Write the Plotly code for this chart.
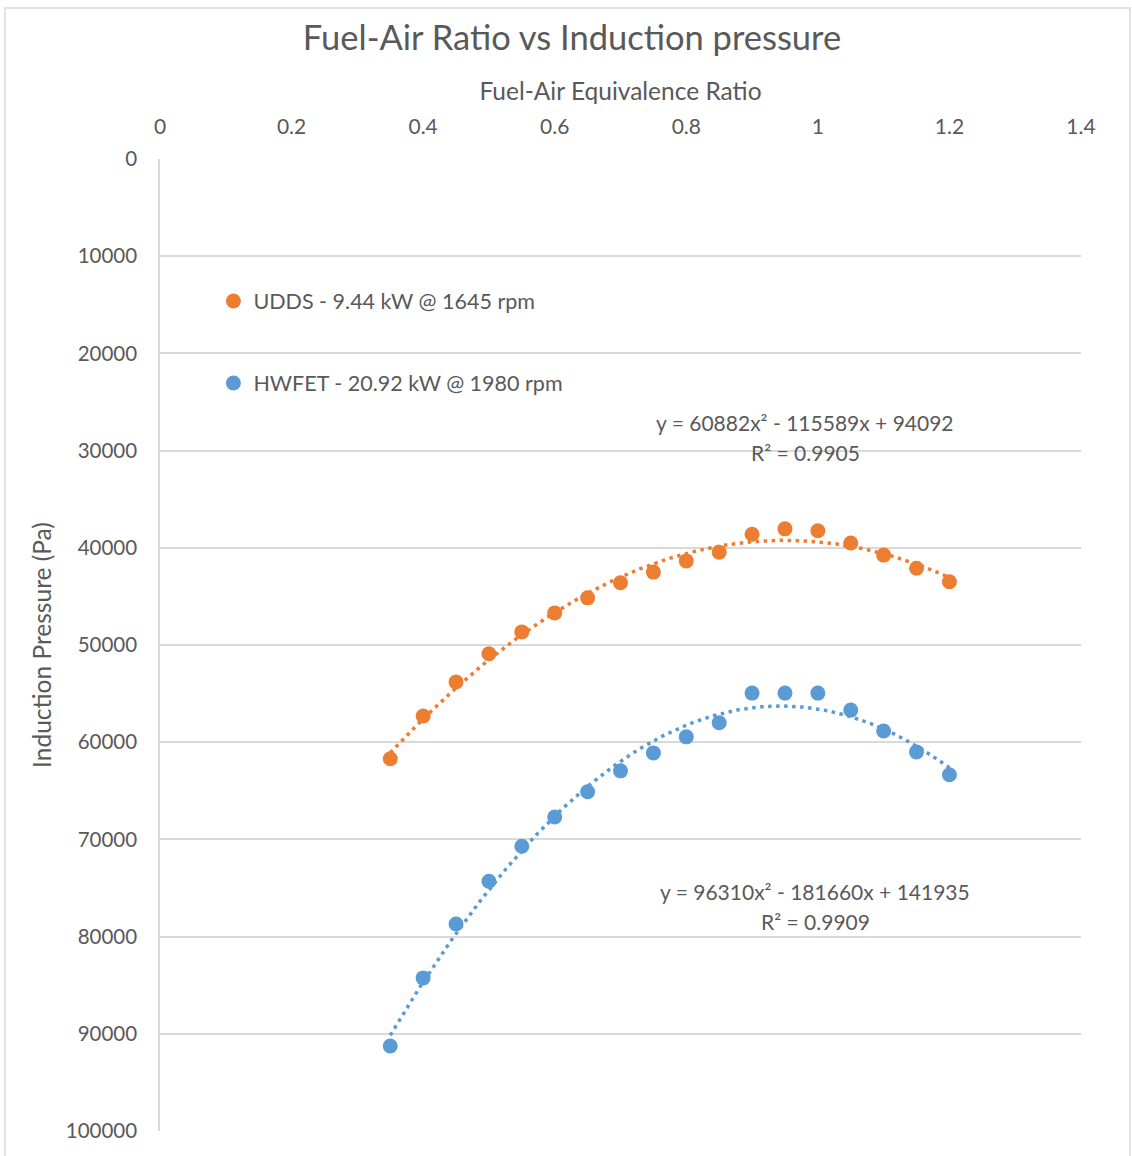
import numpy as np
import plotly.graph_objects as go

# Fuel-air equivalence ratio sweep
phi = [0.35, 0.40, 0.45, 0.50, 0.55, 0.60, 0.65, 0.70, 0.75,
       0.80, 0.85, 0.90, 0.95, 1.00, 1.05, 1.10, 1.15, 1.20]

# Induction pressure (Pa) for each drive cycle operating point
udds_pressure = [61700, 57300, 53800, 50900, 48650, 46700, 45150, 43600, 42500,
                 41350, 40450, 38600, 38050, 38250, 39500, 40750, 42100, 43500]
hwfet_pressure = [91250, 84250, 78700, 74300, 70700, 67700, 65100, 62950, 61100,
                  59450, 58000, 54950, 54950, 54950, 56700, 58850, 61000, 63350]

udds_name = "UDDS - 9.44 kW @ 1645 rpm"
hwfet_name = "HWFET - 20.92 kW @ 1980 rpm"

# Quadratic trendline coefficients (a, b, c) and R² values
udds_fit = [60882, -115589, 94092]
udds_r2 = 0.9905
hwfet_fit = [96310, -181660, 141935]
hwfet_r2 = 0.9909

y_ticks = [0, 10000, 20000, 30000, 40000, 50000, 60000, 70000, 80000, 90000, 100000]
x_ticks = [0, 0.2, 0.4, 0.6, 0.8, 1.0, 1.2, 1.4]

ORANGE = "#ED7D31"
BLUE = "#5B9BD5"
TEXT = "#595959"
GRID = "#D9D9D9"
FONT = "Lato"

fig = go.Figure()

xs = np.linspace(min(phi), max(phi), 200)
for coeffs, color in [(udds_fit, ORANGE), (hwfet_fit, BLUE)]:
    fig.add_trace(go.Scatter(
        x=xs, y=np.polyval(coeffs, xs), mode="lines",
        line=dict(color=color, width=3.5, dash="3.5px,4.5px"),
        showlegend=False, hoverinfo="skip",
    ))

fig.add_trace(go.Scatter(
    x=phi, y=udds_pressure, mode="markers", name=udds_name,
    marker=dict(color=ORANGE, size=15), legendgroup="a",
))
fig.add_trace(go.Scatter(
    x=phi, y=hwfet_pressure, mode="markers", name=hwfet_name,
    marker=dict(color=BLUE, size=15), legendgroup="b",
))


def equation_lines(coeffs, r2):
    a, b, c = coeffs
    sb = "-" if b < 0 else "+"
    sc = "-" if c < 0 else "+"
    return f"y = {a}x² {sb} {abs(b)}x {sc} {abs(c)}", f"R² = {r2:.4f}"


# Trendline equation labels: (x, y of equation line, y of R² line)
for coeffs, r2, x, y_eq, y_r2 in [
    (udds_fit, udds_r2, 0.981, 27060, 30150),
    (hwfet_fit, hwfet_r2, 0.996, 75310, 78400),
]:
    eq, rr = equation_lines(coeffs, r2)
    for text, y in [(eq, y_eq), (rr, y_r2)]:
        fig.add_annotation(x=x, y=y, text=text, showarrow=False,
                           font=dict(size=21, color=TEXT, family=FONT))

# Outer chart border
fig.add_shape(type="rect", xref="paper", yref="paper",
              x0=(5 - 160) / 921, x1=(1130 - 160) / 921,
              y0=(1131 - 1170) / 972, y1=(1131 - 8) / 972,
              line=dict(color=GRID, width=1.5), layer="below")

fig.update_layout(
    width=1132, height=1156,
    margin=dict(l=160, r=51, t=159, b=25),
    paper_bgcolor="white", plot_bgcolor="white",
    font=dict(family=FONT, color=TEXT),
    title=dict(text="Fuel-Air Ratio vs Induction pressure",
               x=572 / 1132, xanchor="center", y=1 - 38 / 1156, yanchor="middle",
               font=dict(size=34.5, color=TEXT, family=FONT)),
    legend=dict(x=0.058, y=(1131 - 301) / 972 + 0.021, xanchor="left", yanchor="top",
                font=dict(size=21.5, color=TEXT, family=FONT),
                tracegroupgap=51, itemwidth=30, bgcolor="rgba(0,0,0,0)"),
    showlegend=True,
)

fig.update_xaxes(
    side="top", range=[0, 1.4], tickvals=x_ticks,
    ticktext=[f"{v:g}" for v in x_ticks],
    showgrid=False, zeroline=False, showline=False, ticks="",
    ticklabelstandoff=20,
    tickfont=dict(size=21, color=TEXT, family=FONT),
    title=dict(text="Fuel-Air Equivalence Ratio", standoff=5,
               font=dict(size=24.5, color=TEXT, family=FONT)),
)
fig.update_yaxes(
    range=[100000, 0], tickvals=y_ticks, tickformat="d",
    showgrid=True, gridcolor=GRID, gridwidth=1.5,
    zeroline=False, showline=True, linecolor=GRID, linewidth=1.5,
    ticks="", ticklabelstandoff=17,
    tickfont=dict(size=20.5, color=TEXT, family=FONT),
    title=dict(text="Induction Pressure (Pa)", standoff=7,
               font=dict(size=24.5, color=TEXT, family=FONT)),
)

fig.write_html("out.html")
